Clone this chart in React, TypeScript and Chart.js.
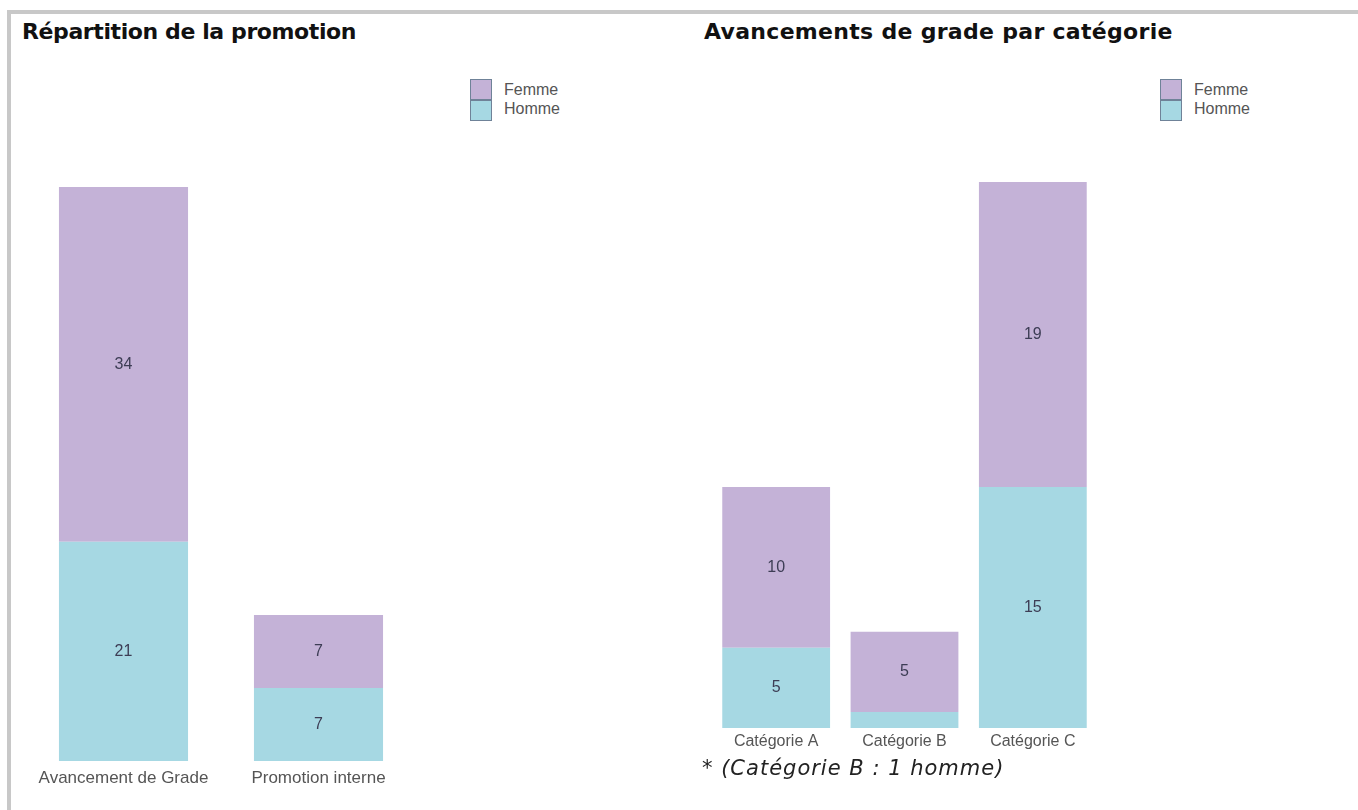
import React, { useEffect, useRef } from "react";
import { Chart, registerables } from "chart.js";

Chart.register(...registerables);

// ---- Data ----
const seriesNames = ["Femme", "Homme"];
const leftCategories = ["Avancement de Grade", "Promotion interne"];
const leftHomme = [21, 7];
const leftFemme = [34, 7];
const rightCategories = ["Catégorie A", "Catégorie B", "Catégorie C"];
const rightHomme = [5, 1, 15];
const rightFemme = [10, 5, 19];

const FEMME_COLOR = "#c4b2d7";
const HOMME_COLOR = "#a6d8e3";

const segmentLabels = {
  id: "segmentLabels",
  afterDatasetsDraw(chart: any) {
    const ctx = chart.ctx;
    chart.data.datasets.forEach((ds: any, i: number) => {
      const meta = chart.getDatasetMeta(i);
      meta.data.forEach((bar: any, j: number) => {
        const p = bar.getProps(["x", "y", "base"], true);
        const h = Math.abs(p.base - p.y);
        if (h < 24) return;
        ctx.save();
        ctx.fillStyle = "#3d3d55";
        ctx.font = "16px 'Liberation Sans', Arial, sans-serif";
        ctx.textAlign = "center";
        ctx.textBaseline = "middle";
        ctx.fillText(String(ds.data[j]), p.x, (p.y + p.base) / 2);
        ctx.restore();
      });
    });
  },
};

type BarProps = {
  categories: string[];
  homme: number[];
  femme: number[];
  yMax: number;
  left: number;
  top: number;
  width: number;
  plotHeight: number;
  axisHeight: number;
  barPct: number;
  tickPad: number;
  tickSize: number;
};

function StackedBars(props: BarProps) {
  const ref = useRef<HTMLCanvasElement | null>(null);
  useEffect(() => {
    if (!ref.current) return;
    const chart = new Chart(ref.current, {
      type: "bar",
      data: {
        labels: props.categories,
        datasets: [
          {
            label: seriesNames[1],
            data: props.homme,
            backgroundColor: HOMME_COLOR,
            borderWidth: 0,
            categoryPercentage: 1,
            barPercentage: props.barPct,
          },
          {
            label: seriesNames[0],
            data: props.femme,
            backgroundColor: FEMME_COLOR,
            borderWidth: 0,
            categoryPercentage: 1,
            barPercentage: props.barPct,
          },
        ],
      },
      options: {
        responsive: false,
        animation: false,
        devicePixelRatio: 1,
        layout: { padding: 0 },
        plugins: {
          legend: { display: false },
          tooltip: { enabled: false },
          title: { display: false },
        },
        scales: {
          x: {
            stacked: true,
            grid: { display: false, drawTicks: false },
            border: { display: false },
            ticks: {
              color: "#555555",
              padding: props.tickPad,
              font: { family: "'Liberation Sans', Arial, sans-serif", size: props.tickSize },
              maxRotation: 0,
              autoSkip: false,
            },
            afterFit: (scale: any) => {
              scale.height = props.axisHeight;
            },
          },
          y: {
            stacked: true,
            display: false,
            min: 0,
            max: props.yMax,
          },
        },
      },
      plugins: [segmentLabels],
    } as any);
    return () => chart.destroy();
  }, []);
  return (
    <canvas
      ref={ref}
      width={props.width}
      height={props.plotHeight + props.axisHeight}
      style={{
        position: "absolute",
        left: props.left,
        top: props.top,
        width: props.width,
        height: props.plotHeight + props.axisHeight,
      }}
    />
  );
}

function Legend({ left, top }: { left: number; top: number }) {
  const box = (color: string, t: number) => (
    <div
      style={{
        position: "absolute",
        left: 0,
        top: t,
        width: 20,
        height: 19,
        background: color,
        border: "1px solid #6f8298",
      }}
    />
  );
  const text = (label: string, t: number) => (
    <div
      style={{
        position: "absolute",
        left: 34,
        top: t,
        fontFamily: "'Liberation Sans', Arial, sans-serif",
        fontSize: 16,
        lineHeight: "20px",
        color: "#555555",
        whiteSpace: "nowrap",
      }}
    >
      {label}
    </div>
  );
  return (
    <div style={{ position: "absolute", left, top, width: 120, height: 44 }}>
      {box(FEMME_COLOR, 0)}
      {box(HOMME_COLOR, 21)}
      {text(seriesNames[0], 1)}
      {text(seriesNames[1], 20)}
    </div>
  );
}

const titleStyle: React.CSSProperties = {
  position: "absolute",
  top: 21,
  fontFamily: "'DejaVu Sans', sans-serif",
  fontWeight: "bold",
  fontSize: 22,
  lineHeight: "22px",
  color: "#111111",
  whiteSpace: "nowrap",
};

export default function App() {
  return (
    <div
      style={{
        position: "absolute",
        left: 0,
        top: 0,
        width: 1358,
        height: 810,
        background: "#ffffff",
        overflow: "hidden",
      }}
    >
      <div
        style={{
          position: "absolute",
          left: 7,
          top: 10,
          width: 1358,
          height: 820,
          borderTop: "4px solid #c8c8c8",
          borderLeft: "4px solid #c8c8c8",
        }}
      />
      <div style={{ ...titleStyle, left: 22, letterSpacing: "-0.4px" }}>
        Répartition de la promotion
      </div>
      <div style={{ ...titleStyle, left: 704, letterSpacing: "0.3px" }}>
        Avancements de grade par catégorie
      </div>

      <Legend left={470} top={79} />
      <Legend left={1160} top={79} />

      <StackedBars
        categories={leftCategories}
        homme={leftHomme}
        femme={leftFemme}
        yMax={55}
        left={26}
        top={187}
        width={390}
        plotHeight={574}
        axisHeight={40}
        barPct={0.662}
        tickPad={7}
        tickSize={17}
      />
      <StackedBars
        categories={rightCategories}
        homme={rightHomme}
        femme={rightFemme}
        yMax={34}
        left={712}
        top={182}
        width={385}
        plotHeight={546}
        axisHeight={30}
        barPct={0.84}
        tickPad={4}
        tickSize={16}
      />

      <div
        style={{
          position: "absolute",
          left: 702,
          top: 758,
          fontFamily: "'DejaVu Sans', sans-serif",
          fontStyle: "italic",
          fontSize: 21,
          lineHeight: "21px",
          letterSpacing: "1px",
          color: "#222222",
          whiteSpace: "nowrap",
        }}
      >
        * (Catégorie B : 1 homme)
      </div>
    </div>
  );
}
